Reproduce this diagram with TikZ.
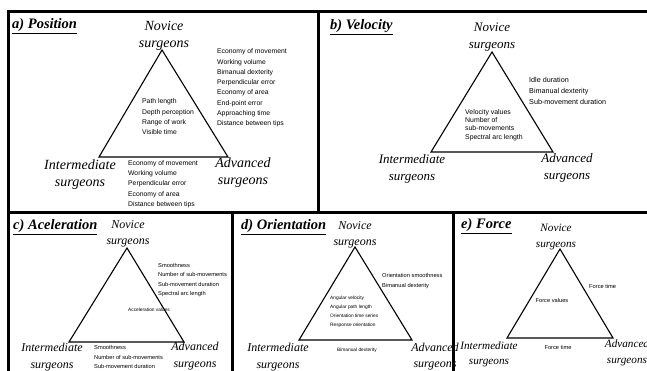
\documentclass[tikz,border=0pt]{standalone}
\usepackage{fontspec}
\setmainfont{Liberation Serif}
\setsansfont{Liberation Sans}

\begin{document}
\begin{tikzpicture}[x=1pt, y=-1pt,
  frame/.style={line width=3pt},
  tri/.style={line width=1.1pt},
  ttl/.style={anchor=west, inner sep=0pt, font=\bfseries\itshape\fontsize{14.5}{16}\selectfont},
  grpA/.style={align=center, inner sep=0pt, font=\itshape\fontsize{14}{17}\selectfont},
  grpB/.style={align=center, inner sep=0pt, font=\itshape\fontsize{13}{16.5}\selectfont},
  grpC/.style={align=center, inner sep=0pt, font=\itshape\fontsize{12}{16.5}\selectfont},
  grpE/.style={align=center, inner sep=0pt, font=\itshape\fontsize{11.2}{15.5}\selectfont},
  lstA/.style={anchor=west, align=left, inner sep=0pt, font=\sffamily\fontsize{6.8}{10.3}\selectfont},
  lstB/.style={anchor=west, align=left, inner sep=0pt, font=\sffamily\fontsize{7.2}{10.8}\selectfont},
  lstC/.style={anchor=west, align=left, inner sep=0pt, font=\sffamily\fontsize{5.7}{9.3}\selectfont},
  lstD/.style={anchor=west, align=left, inner sep=0pt, font=\sffamily\fontsize{4.8}{9}\selectfont}]

\useasboundingbox (0,0) rectangle (647,371);
\clip (0,0) rectangle (647,371);

%%%%%%%%%% Frames %%%%%%%%
{
\draw[frame] (8,12) rectangle (660,385);
\draw[frame] (8,213) -- (660,213);
\draw[frame] (318,12) -- (318,213);
\draw[frame] (232.5,213) -- (232.5,385);
\draw[frame] (453,213) -- (453,385);
}

%%%%%%%%%%%%     a) Position   %%%%%%%%%%%%
{
\coordinate (aTop) at (162,50);
\coordinate (aLft) at (99,157);
\coordinate (aRgt) at (228,157);
\draw[tri] (aTop) -- (aLft) -- (aRgt) -- cycle;

\node[ttl] (aTtl) at (12,26) {\underline{a) Position}};
\node[grpA] (aNov) at (164,36) {Novice\\surgeons};
\node[grpA] (aInt) at (80,175) {Intermediate\\surgeons};
\node[grpA] (aAdv) at (243,173) {Advanced\\surgeons};

\node[lstA] (aSide) at (217,88) {Economy of movement\\Working volume\\Bimanual dexterity\\Perpendicular error\\Economy of area\\End-point error\\Approaching time\\Distance between tips};
\node[lstA] (aIn) at (142,117) {Path length\\Depth perception\\Range of work\\Visible time};
\node[lstA] (aBase) at (128,184) {Economy of movement\\Working volume\\Perpendicular error\\Economy of area\\Distance between tips};
}

%%%%%%%%%%%%     b) Velocity   %%%%%%%%%%%%
{
\coordinate (bTop) at (492,52);
\coordinate (bLft) at (431,152);
\coordinate (bRgt) at (553,152);
\draw[tri] (bTop) -- (bLft) -- (bRgt) -- cycle;

\node[ttl] (bTtl) at (330,27) {\underline{b) Velocity}};
\node[grpB] (bNov) at (492,37) {Novice\\surgeons};
\node[grpB] (bInt) at (412,169) {Intermediate\\surgeons};
\node[grpB] (bAdv) at (567,168) {Advanced\\surgeons};

\node[lstB] (bSide) at (529,91) {Idle duration\\Bimanual dexterity\\Sub-movement duration};
\node[lstB, font=\sffamily\fontsize{6.9}{8.4}\selectfont] (bIn) at (465,125) {Velocity values\\Number of\\sub-movements\\Spectral arc length};
}

%%%%%%%%%%%%     c) Aceleration   %%%%%%%%%%%%
{
\coordinate (cTop) at (127,248);
\coordinate (cLft) at (69,342);
\coordinate (cRgt) at (184,342);
\draw[tri] (cTop) -- (cLft) -- (cRgt) -- cycle;

\node[ttl] (cTtl) at (13,227) {\underline{c) Aceleration}};
\node[grpC] (cNov) at (128,234) {Novice\\surgeons};
\node[grpC] (cInt) at (52,357) {Intermediate\\surgeons};
\node[grpC] (cAdv) at (195,356) {Advanced\\surgeons};

\node[lstC] (cSide) at (158,280) {Smoothness\\Number of sub-movements\\Sub-movement duration\\Spectral arc length};
\node[lstD] (cIn) at (128,310) {Acceleration values};
\node[lstC] (cBase) at (94,357) {Smoothness\\Number of sub-movements\\Sub-movement duration};
}

%%%%%%%%%%%%     d) Orientation   %%%%%%%%%%%%
{
\coordinate (dTop) at (355,247);
\coordinate (dLft) at (299,340);
\coordinate (dRgt) at (412,340);
\draw[tri] (dTop) -- (dLft) -- (dRgt) -- cycle;

\node[ttl] (dTtl) at (241,227) {\underline{d) Orientation}};
\node[grpC] (dNov) at (355,235) {Novice\\surgeons};
\node[grpC] (dInt) at (278,357) {Intermediate\\surgeons};
\node[grpC] (dAdv) at (435,356.5) {Advanced\\surgeons};

\node[lstC] (dSide) at (382,281) {Orientation smoothness\\Bimanual dexterity};
\node[lstD] (dIn) at (330,311.5) {Angular velocity\\Angular path length\\Orientation time series\\Response orientation};
\node[lstD] (dBase) at (337,350) {Bimanual dexterity};
}

%%%%%%%%%%%%     e) Force   %%%%%%%%%%%%
{
\coordinate (eTop) at (560,249);
\coordinate (eLft) at (507,338);
\coordinate (eRgt) at (613,338);
\draw[tri] (eTop) -- (eLft) -- (eRgt) -- cycle;

\node[ttl] (eTtl) at (461,226) {\underline{e) Force}};
\node[grpE] (eNov) at (556,237) {Novice\\surgeons};
\node[grpE] (eInt) at (489,354.5) {Intermediate\\surgeons};
\node[grpE] (eAdv) at (627,353) {Advanced\\surgeons};

\node[lstC] (eSide) at (589,286) {Force time};
\node[lstC, anchor=center] (eIn) at (552,300) {Force values};
\node[lstC, anchor=center] (eBase) at (558,347) {Force time};
}

\end{tikzpicture}
\end{document}
